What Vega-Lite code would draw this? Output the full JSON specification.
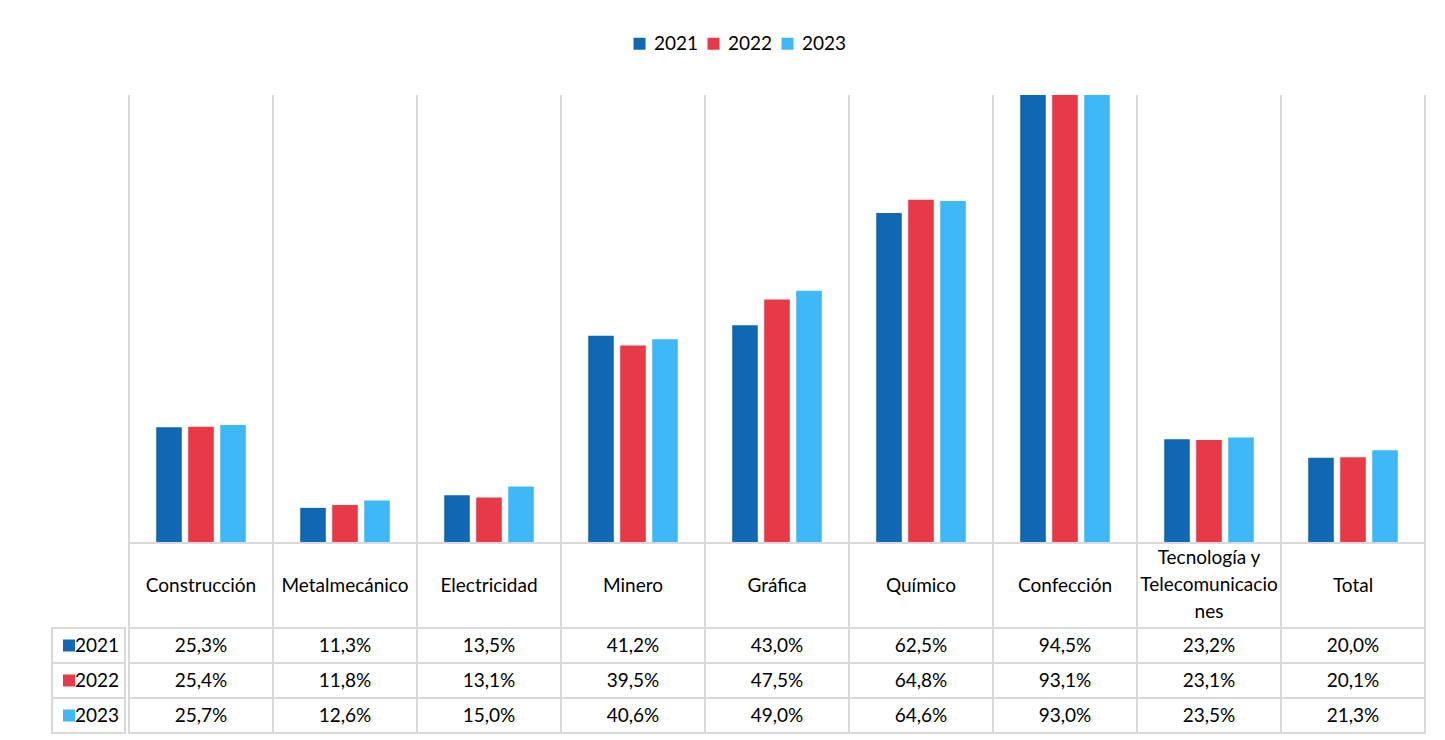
{
  "$schema": "https://vega.github.io/schema/vega-lite/v6.json",
  "padding": {"left": 50, "top": 34, "right": 21, "bottom": 6},
  "autosize": {"type": "pad"},
  "background": "white",
  "config": {
    "font": "Lato",
    "view": {"stroke": null},
    "locale": {"number": {"decimal": ",", "thousands": ".", "grouping": [3], "currency": ["", " €"]}},
    "legend": {"layout": {"top": {"anchor": "middle"}}}
  },
  "datasets": {
    "rates": [
      {"sector": "Construcción", "year": "2021", "value": 0.253},
      {"sector": "Construcción", "year": "2022", "value": 0.254},
      {"sector": "Construcción", "year": "2023", "value": 0.257},
      {"sector": "Metalmecánico", "year": "2021", "value": 0.113},
      {"sector": "Metalmecánico", "year": "2022", "value": 0.118},
      {"sector": "Metalmecánico", "year": "2023", "value": 0.126},
      {"sector": "Electricidad", "year": "2021", "value": 0.135},
      {"sector": "Electricidad", "year": "2022", "value": 0.131},
      {"sector": "Electricidad", "year": "2023", "value": 0.150},
      {"sector": "Minero", "year": "2021", "value": 0.412},
      {"sector": "Minero", "year": "2022", "value": 0.395},
      {"sector": "Minero", "year": "2023", "value": 0.406},
      {"sector": "Gráfica", "year": "2021", "value": 0.430},
      {"sector": "Gráfica", "year": "2022", "value": 0.475},
      {"sector": "Gráfica", "year": "2023", "value": 0.490},
      {"sector": "Químico", "year": "2021", "value": 0.625},
      {"sector": "Químico", "year": "2022", "value": 0.648},
      {"sector": "Químico", "year": "2023", "value": 0.646},
      {"sector": "Confección", "year": "2021", "value": 0.945},
      {"sector": "Confección", "year": "2022", "value": 0.931},
      {"sector": "Confección", "year": "2023", "value": 0.930},
      {"sector": "Tecnología y Telecomunicaciones", "year": "2021", "value": 0.232},
      {"sector": "Tecnología y Telecomunicaciones", "year": "2022", "value": 0.231},
      {"sector": "Tecnología y Telecomunicaciones", "year": "2023", "value": 0.235},
      {"sector": "Total", "year": "2021", "value": 0.200},
      {"sector": "Total", "year": "2022", "value": 0.201},
      {"sector": "Total", "year": "2023", "value": 0.213}
    ],
    "sectors": [
      {"sector": "Construcción", "label": "Construcción"},
      {"sector": "Metalmecánico", "label": "Metalmecánico"},
      {"sector": "Electricidad", "label": "Electricidad"},
      {"sector": "Minero", "label": "Minero"},
      {"sector": "Gráfica", "label": "Gráfica"},
      {"sector": "Químico", "label": "Químico"},
      {"sector": "Confección", "label": "Confección"},
      {"sector": "Tecnología y Telecomunicaciones", "label": "Tecnología y\nTelecomunicacio\nnes"},
      {"sector": "Total", "label": "Total"}
    ]
  },
  "resolve": {"scale": {"color": "shared"}, "legend": {"color": "shared"}},
  "spacing": 0,
  "hconcat": [
    {
      "spacing": 0,
      "bounds": "flush",
      "vconcat": [
        {
          "width": 73,
          "height": 533,
          "data": {"name": "sectors"},
          "mark": {"type": "text"},
          "encoding": {"text": {"value": ""}}
        },
        {
          "width": 73,
          "height": 105,
          "view": {"stroke": "#d9d9d9", "strokeWidth": 2},
          "data": {"name": "rates"},
          "transform": [{"filter": "datum.sector === 'Construcción'"}],
          "layer": [
            {
              "mark": {"type": "rule", "stroke": "#d9d9d9", "strokeWidth": 2},
              "encoding": {
                "y": {"field": "year", "type": "nominal", "bandPosition": 0, "axis": null, "scale": {"paddingInner": 0, "paddingOuter": 0}}
              }
            },
            {
              "mark": {"type": "point", "shape": "square", "filled": true, "size": 144, "opacity": 1},
              "encoding": {
                "x": {"datum": "marker", "type": "nominal", "axis": null, "scale": {"type": "point", "domain": ["marker", "label"], "range": [14, 26]}},
                "y": {"field": "year", "type": "nominal", "axis": null},
                "color": {"field": "year", "type": "nominal", "scale": {"domain": ["2021", "2022", "2023"], "range": ["#1068b2", "#e83a46", "#3fb8f7"]}}
              }
            },
            {
              "mark": {"type": "text", "align": "left", "baseline": "middle", "fontSize": 19, "color": "#000"},
              "encoding": {
                "x": {"datum": "label", "type": "nominal", "axis": null},
                "y": {"field": "year", "type": "nominal", "axis": null},
                "text": {"field": "year", "type": "nominal"}
              }
            }
          ]
        }
      ]
    },
    {
      "spacing": 0,
      "bounds": "flush",
      "vconcat": [
        {
          "width": 1296,
          "height": 448,
          "layer": [
            {
              "data": {"name": "sectors"},
              "mark": {"type": "rule", "stroke": "#d9d9d9", "strokeWidth": 2},
              "encoding": {
                "x": {"field": "sector", "type": "nominal", "bandPosition": 0, "axis": null,
                  "scale": {"domain": ["Construcción", "Metalmecánico", "Electricidad", "Minero", "Gráfica", "Químico", "Confección", "Tecnología y Telecomunicaciones", "Total"], "paddingInner": 0, "paddingOuter": 0}}
              }
            },
            {
              "data": {"name": "sectors"},
              "transform": [{"filter": "datum.sector === 'Total'"}],
              "mark": {"type": "rule", "stroke": "#d9d9d9", "strokeWidth": 2},
              "encoding": {
                "x": {"field": "sector", "type": "nominal", "bandPosition": 1, "axis": null}
              }
            },
            {
              "data": {"name": "rates"},
              "mark": {"type": "bar"},
              "encoding": {
                "x": {"field": "sector", "type": "nominal", "axis": null},
                "xOffset": {"field": "year", "type": "nominal", "scale": {"paddingInner": 0.2, "paddingOuter": 0.85}},
                "y": {"field": "value", "type": "quantitative", "axis": null, "scale": {"domain": [0.052, 0.83], "clamp": true, "zero": false, "nice": false}},
                "color": {
                  "field": "year", "type": "nominal",
                  "scale": {"domain": ["2021", "2022", "2023"], "range": ["#1068b2", "#e83a46", "#3fb8f7"]},
                  "legend": {"title": null, "orient": "top", "direction": "horizontal", "symbolType": "square", "symbolSize": 144, "symbolStrokeWidth": 0, "labelFontSize": 19, "labelColor": "#000", "columnPadding": 5, "labelOffset": 5, "offset": 40}
                }
              }
            }
          ]
        },
        {
          "width": 1296,
          "height": 85,
          "view": {"stroke": "#d9d9d9", "strokeWidth": 2},
          "data": {"name": "sectors"},
          "layer": [
            {
              "mark": {"type": "rule", "stroke": "#d9d9d9", "strokeWidth": 2},
              "encoding": {
                "x": {"field": "sector", "type": "nominal", "bandPosition": 0, "axis": null,
                  "scale": {"domain": ["Construcción", "Metalmecánico", "Electricidad", "Minero", "Gráfica", "Químico", "Confección", "Tecnología y Telecomunicaciones", "Total"], "paddingInner": 0, "paddingOuter": 0}}
              }
            },
            {
              "transform": [{"filter": "datum.sector !== 'Tecnología y Telecomunicaciones'"}],
              "mark": {"type": "text", "fontSize": 19, "color": "#000", "baseline": "middle"},
              "encoding": {
                "x": {"field": "sector", "type": "nominal", "axis": null},
                "text": {"field": "label", "type": "nominal"}
              }
            },
            {
              "transform": [{"filter": "datum.sector === 'Tecnología y Telecomunicaciones'"}],
              "mark": {"type": "text", "fontSize": 19, "color": "#000", "lineBreak": "\n", "lineHeight": 27, "baseline": "middle", "dy": -28},
              "encoding": {
                "x": {"field": "sector", "type": "nominal", "axis": null},
                "text": {"field": "label", "type": "nominal"}
              }
            }
          ]
        },
        {
          "width": 1296,
          "height": 105,
          "view": {"stroke": "#d9d9d9", "strokeWidth": 2},
          "layer": [
            {
              "data": {"name": "sectors"},
              "mark": {"type": "rule", "stroke": "#d9d9d9", "strokeWidth": 2},
              "encoding": {
                "x": {"field": "sector", "type": "nominal", "bandPosition": 0, "axis": null,
                  "scale": {"domain": ["Construcción", "Metalmecánico", "Electricidad", "Minero", "Gráfica", "Químico", "Confección", "Tecnología y Telecomunicaciones", "Total"], "paddingInner": 0, "paddingOuter": 0}}
              }
            },
            {
              "data": {"name": "rates"},
              "transform": [{"filter": "datum.sector === 'Construcción'"}],
              "mark": {"type": "rule", "stroke": "#d9d9d9", "strokeWidth": 2},
              "encoding": {
                "y": {"field": "year", "type": "nominal", "bandPosition": 0, "axis": null, "scale": {"paddingInner": 0, "paddingOuter": 0}}
              }
            },
            {
              "data": {"name": "rates"},
              "mark": {"type": "text", "fontSize": 19, "color": "#000", "baseline": "middle"},
              "encoding": {
                "x": {"field": "sector", "type": "nominal", "axis": null},
                "y": {"field": "year", "type": "nominal", "axis": null},
                "text": {"field": "value", "type": "quantitative", "format": ".1%"}
              }
            }
          ]
        }
      ]
    }
  ]
}
